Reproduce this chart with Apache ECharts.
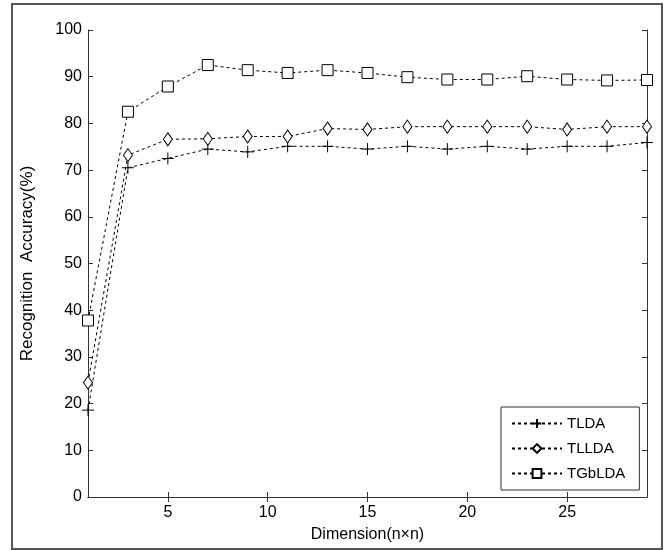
<!DOCTYPE html>
<html>
<head>
<meta charset="utf-8">
<script src="https://cdn.jsdelivr.net/npm/echarts@6/dist/echarts.min.js"></script>
<style>
  html, body { margin: 0; padding: 0; background: #fff; }
  #chart { width: 667px; height: 550px; }
</style>
</head>
<body>
<div id="chart"></div>
<script>
// dimension n (n x n)
var dims = [1, 3, 5, 7, 9, 11, 13, 15, 17, 19, 21, 23, 25, 27, 29];
var tlda = [18.6, 70.5, 72.5, 74.5, 73.9, 75.1, 75.1, 74.5, 75.1, 74.5, 75.1, 74.5, 75.1, 75.1, 75.9];
var tllda = [24.5, 73.2, 76.6, 76.7, 77.2, 77.2, 78.9, 78.7, 79.3, 79.3, 79.3, 79.3, 78.7, 79.3, 79.3];
var tgblda = [37.8, 82.5, 87.9, 92.5, 91.4, 90.8, 91.4, 90.8, 89.9, 89.4, 89.4, 90.1, 89.4, 89.2, 89.3];
var xTicks = [5, 10, 15, 20, 25];
var seriesNames = ["TLDA", "TLLDA", "TGbLDA"];

var font = "Arial, 'Liberation Sans', sans-serif";
// thin plus drawn as stroke only
var plusPath = "path://M5,0V10M0,5H10";

function toPairs(vals) {
  return dims.map(function (d, i) { return [d, vals[i]]; });
}

function makeSeries(name, vals, symbol, size, fill) {
  return {
    name: name,
    type: "line",
    data: toPairs(vals),
    symbol: symbol,
    symbolSize: size,
    showAllSymbol: true,
    animation: false,
    lineStyle: { color: "#000", width: 1, type: [3, 3] },
    itemStyle: { color: fill, borderColor: "#000", borderWidth: 1 },
    emphasis: { disabled: true },
  };
}

var myChart = echarts.init(document.getElementById("chart"));

// common axis pieces (matlab style: ticks inside, box round plot)
var axisLine = { show: true, lineStyle: { color: "#333", width: 1 } };
var tick = { show: true, inside: true, length: 5, lineStyle: { color: "#333" } };

myChart.setOption({
  backgroundColor: "#fff",
  animation: false,
  grid: { left: 88, right: 20, top: 30, bottom: 53 },
  graphic: [
    {
      type: "rect",
      shape: { x: 12, y: 4, width: 650, height: 545 },
      style: { fill: "none", stroke: "#555", lineWidth: 2 },
      silent: true,
    },
  ],
  legend: {
    orient: "vertical",
    left: 501,
    top: 407,
    padding: [9, 14, 9, 10],
    itemGap: 10,
    itemWidth: 50,
    itemHeight: 11,
    backgroundColor: "#fff",
    borderColor: "#333",
    borderWidth: 1,
    borderRadius: 0,
    textStyle: { fontFamily: font, fontSize: 15, color: "#000" },
    data: seriesNames,
  },
  xAxis: [
    {
      type: "value",
      min: 1,
      max: 29,
      name: "Dimension(n×n)",
      nameLocation: "middle",
      nameGap: 30,
      nameTextStyle: { fontFamily: font, fontSize: 16, color: "#000" },
      axisLine: axisLine,
      axisTick: Object.assign({ customValues: xTicks }, tick),
      axisLabel: { customValues: xTicks, margin: 8, fontFamily: font, fontSize: 16, color: "#000" },
      splitLine: { show: false },
    },
    {
      type: "value",
      position: "top",
      min: 1,
      max: 29,
      axisLine: axisLine,
      axisTick: Object.assign({ customValues: xTicks }, tick),
      axisLabel: { show: false, customValues: xTicks },
      splitLine: { show: false },
    },
  ],
  yAxis: [
    {
      type: "value",
      min: 0,
      max: 100,
      interval: 10,
      name: "Recognition  Accuracy(%)",
      nameLocation: "middle",
      nameGap: 52,
      nameTextStyle: { fontFamily: font, fontSize: 17, color: "#000" },
      axisLine: axisLine,
      axisTick: tick,
      axisLabel: { margin: 6, fontFamily: font, fontSize: 16, color: "#000" },
      splitLine: { show: false },
    },
    {
      type: "value",
      position: "right",
      min: 0,
      max: 100,
      interval: 10,
      axisLine: axisLine,
      axisTick: tick,
      axisLabel: { show: false },
      splitLine: { show: false },
    },
  ],
  series: [
    makeSeries("TLDA", tlda, plusPath, 12, "none"),
    makeSeries("TLLDA", tllda, "diamond", [9, 13], "#fff"),
    makeSeries("TGbLDA", tgblda, "rect", 11, "#fff"),
  ],
});
</script>
</body>
</html>
